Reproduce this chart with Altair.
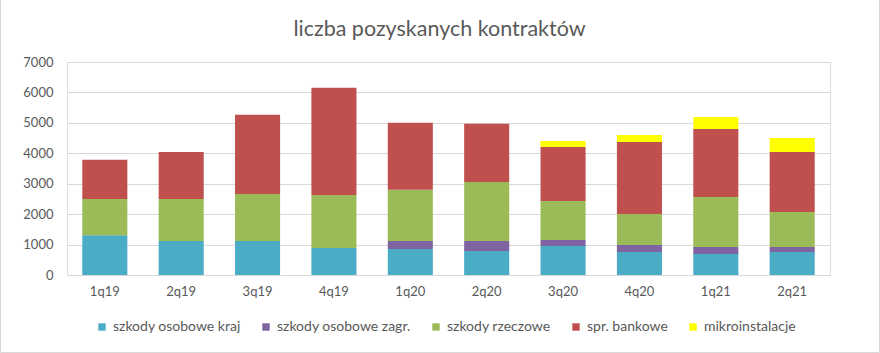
import altair as alt
import pandas as pd

quarters = ["1q19", "2q19", "3q19", "4q19", "1q20", "2q20", "3q20", "4q20", "1q21", "2q21"]
series = ["szkody osobowe kraj", "szkody osobowe zagr.", "szkody rzeczowe", "spr. bankowe", "mikroinstalacje"]
colors = ["#4BACC6", "#8064A2", "#9BBB59", "#C0504D", "#FFFF00"]

osobowe_kraj = [1310, 1120, 1120, 890, 855, 790, 955, 755, 690, 755]
osobowe_zagr = [0, 0, 0, 0, 265, 330, 195, 230, 230, 165]
rzeczowe = [1190, 1380, 1545, 1740, 1680, 1940, 1285, 1020, 1645, 1150]
bankowe = [1285, 1545, 2600, 3520, 2205, 1910, 1775, 2370, 2235, 1975]
mikro = [0, 0, 0, 0, 0, 0, 195, 230, 395, 460]

values = [osobowe_kraj, osobowe_zagr, rzeczowe, bankowe, mikro]
rows = []
for si, (name, vals) in enumerate(zip(series, values)):
    for q, v in zip(quarters, vals):
        if v > 0:
            rows.append({"kwartał": q, "seria": name, "liczba": v, "idx": si})
df = pd.DataFrame(rows)

FONT = "Lato"
GREY = "#595959"

bars = alt.Chart(df).mark_bar().encode(
    x=alt.X("kwartał:N", sort=quarters, title=None,
            scale=alt.Scale(paddingInner=0.41, paddingOuter=0.2),
            axis=alt.Axis(labelAngle=0, domain=False, ticks=False, labelPadding=10,
                          labelFont=FONT, labelFontSize=13, labelColor=GREY)),
    y=alt.Y("liczba:Q", stack="zero", title=None,
            scale=alt.Scale(domain=[0, 7000]),
            axis=alt.Axis(values=list(range(0, 7001, 1000)), format="d", domain=False, ticks=False,
                          labelPadding=14, gridColor="#D9D9D9", gridWidth=1,
                          labelFont=FONT, labelFontSize=13, labelColor=GREY)),
    color=alt.Color("seria:N", sort=series,
                    scale=alt.Scale(domain=series, range=colors),
                    legend=alt.Legend(orient="none", direction="horizontal", title=None,
                                      legendX=28, legendY=258,
                                      symbolType="square", symbolSize=55, symbolStrokeWidth=0,
                                      symbolOffset=0, labelOffset=4,
                                      labelFont=FONT, labelFontSize=14, labelColor=GREY,
                                      columnPadding=18)),
    order=alt.Order("idx:Q", sort="ascending"),
)

frame = alt.Chart(pd.DataFrame({"a": [0]})).mark_rect(
    fill=None, stroke="#D9D9D9", strokeWidth=1
).encode(
    x=alt.value(-66.5), x2=alt.value(812.5), y=alt.value(-63), y2=alt.value(290.5)
)

chart = alt.layer(frame, bars).properties(
    width=763,
    height=213,
    title=alt.TitleParams("liczba pozyskanych kontraktów", font=FONT, fontSize=21.5,
                          fontWeight="normal", color=GREY, anchor="middle", frame="group",
                          offset=22, dx=-9, dy=63.5),
    autosize=alt.AutoSizeParams(type="none"),
    padding={"left": 67, "top": 62, "right": 50, "bottom": 78},
).configure_view(stroke=None).configure(background="white")

chart.save("out.html", embed_options={"renderer": "svg", "actions": False})
